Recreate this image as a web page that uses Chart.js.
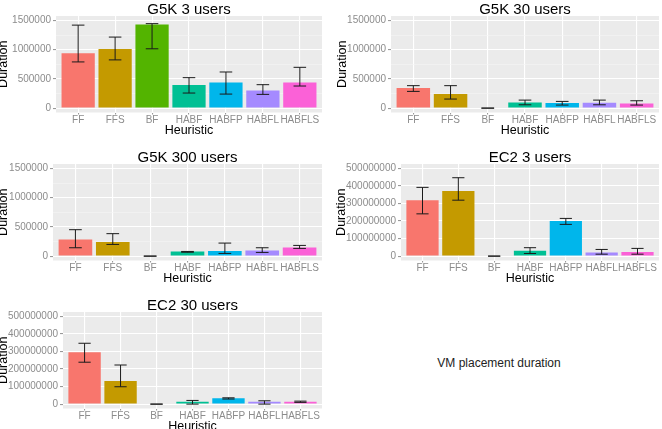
<!DOCTYPE html>
<html>
<head>
<meta charset="utf-8">
<script src="https://cdn.jsdelivr.net/npm/chart.js@4"></script>
<style>
  body { margin: 0; width: 662px; height: 429px; overflow: hidden; background: #fff; position: relative; font-family: "Liberation Sans", Arial, sans-serif; }
  canvas { position: absolute; }
  #note { position: absolute; left: 399px; width: 200px; top: 356px; text-align: center; font-size: 12px; color: #222; }
</style>
</head>
<body>
<canvas id="g5k3"></canvas>
<canvas id="g5k30"></canvas>
<canvas id="g5k300"></canvas>
<canvas id="ec23"></canvas>
<canvas id="ec230"></canvas>
<div id="note">VM placement duration</div>

<script>
// heuristics and ggplot hue colours
const heuristics = ['FF', 'FFS', 'BF', 'HABF', 'HABFP', 'HABFL', 'HABFLS'];
const colors = ['#F8766D', '#C49A00', '#53B400', '#00C094', '#00B6EB', '#A58AFF', '#FB61D7'];

// G5K 3 users
const g5k3Mean = [940000, 1010000, 1430000, 395000, 440000, 300000, 440000];
const g5k3Low  = [790000, 825000, 1015000, 258000, 240000, 235000, 378000];
const g5k3High = [1420000, 1215000, 1445000, 521000, 618000, 401000, 698000];

// G5K 30 users
const g5k30Mean = [343000, 240000, 0, 97000, 86000, 92000, 80000];
const g5k30Low  = [286000, 155000, 0, 57000, 52000, 57000, 52000];
const g5k30High = [384000, 384000, 0, 137000, 115000, 137000, 126000];

// G5K 300 users
const g5k300Mean = [286000, 240000, 0, 78000, 86000, 97000, 149000];
const g5k300Low  = [143000, 200000, 0, 66000, 46000, 63000, 132000];
const g5k300High = [452000, 384000, 0, 80000, 223000, 143000, 183000];

// EC2 3 users
const ec23Mean = [319000000, 371000000, 0, 30000000, 200000000, 21000000, 23000000];
const ec23Low  = [241000000, 319000000, 0, 15000000, 181000000, 11000000, 11000000];
const ec23High = [392000000, 447000000, 0, 48000000, 215000000, 38000000, 44000000];

// EC2 30 users
const ec230Mean = [296000000, 132000000, 0, 13000000, 34000000, 13000000, 13000000];
const ec230Low  = [239000000, 99000000, 0, 0, 29000000, 0, 10000000];
const ec230High = [347000000, 223000000, 0, 21000000, 36000000, 19000000, 17000000];

Chart.defaults.font.family = '"Liberation Sans", Arial, sans-serif';

// grey panel behind the plot
const panelBg = {
  id: 'panelBg',
  beforeDraw(chart) {
    const a = chart.chartArea, c = chart.ctx;
    c.save();
    c.fillStyle = '#EBEBEB';
    c.fillRect(a.left, a.top, a.right - a.left, a.bottom - a.top);
    c.restore();
  }
};

function errPlugin(low, high) {
  return {
    id: 'errbars',
    afterDatasetsDraw(chart) {
      const xs = chart.scales.x, ys = chart.scales.y, c = chart.ctx;
      c.save();
      c.strokeStyle = '#1a1a1a';
      c.lineWidth = 1;
      for (let i = 0; i < low.length; i++) {
        const x = xs.getPixelForValue(i);
        const x0 = xs.getPixelForValue(i - 0.17), x1 = xs.getPixelForValue(i + 0.17);
        const y0 = ys.getPixelForValue(low[i]), y1 = ys.getPixelForValue(high[i]);
        c.beginPath();
        c.moveTo(x, y0); c.lineTo(x, y1);
        c.moveTo(x0, y0); c.lineTo(x1, y0);
        c.moveTo(x0, y1); c.lineTo(x1, y1);
        c.stroke();
      }
      c.restore();
    }
  };
}

function makePanel(p) {
  const cv = document.getElementById(p.id);
  const titleH = 13, xH = 25.5;
  const w = Math.round(p.yW + p.plotW + p.padR);
  const h = Math.round(titleH + p.plotH + xH);
  cv.width = w; cv.height = h;
  cv.style.left = (p.left - p.yW) + 'px';
  cv.style.top = (p.top - titleH) + 'px';

  const minor = p.major / 2;
  const yTicks = [];
  for (let v = 0; v <= p.yMax; v += minor) yTicks.push(v);

  new Chart(cv, {
    type: 'bar',
    data: {
      datasets: [{
        data: p.mean.map((v, i) => ({ x: i, y: v })),
        backgroundColor: colors,
        borderWidth: 0,
        barPercentage: 1,
        categoryPercentage: 0.9
      }]
    },
    options: {
      responsive: false,
      animation: false,
      layout: { padding: { left: 0, right: p.padR, top: 0, bottom: 0 } },
      plugins: {
        legend: { display: false },
        tooltip: { enabled: false },
        title: {
          display: true,
          text: p.title,
          fullSize: false,
          color: '#000',
          font: { size: 15, lineHeight: 0.87, weight: 'normal' },
          padding: 0
        }
      },
      scales: {
        x: {
          type: 'linear',
          min: -0.6,
          max: 6.6,
          offset: false,
          afterBuildTicks: s => { s.ticks = heuristics.map((h, i) => ({ value: i })); },
          afterFit: s => { s.height = xH; },
          ticks: {
            autoSkip: false,
            maxRotation: 0,
            padding: 0,
            color: '#8c8c8c',
            font: { size: 10 },
            callback: v => heuristics[v]
          },
          grid: { offset: false, color: '#fff', lineWidth: 1.1, tickLength: 2, tickColor: '#999' },
          border: { display: false },
          title: { display: true, text: 'Heuristic', color: '#000', font: { size: 12.5 }, padding: 0 }
        },
        y: {
          min: -0.05 * p.yMax,
          max: 1.05 * p.yMax,
          afterBuildTicks: s => { s.ticks = yTicks.map(v => ({ value: v })); },
          afterFit: s => { s.width = p.yW; },
          ticks: {
            padding: 2,
            color: '#8c8c8c',
            font: { size: 10 },
            callback: v => (v % p.major === 0 ? String(v) : '')
          },
          grid: {
            color: c => (c.tick && c.tick.value % p.major === 0 ? '#fff' : '#F5F5F5'),
            lineWidth: c => (c.tick && c.tick.value % p.major === 0 ? 1.1 : 0.6),
            tickLength: 3,
            tickColor: c => (c.tick && c.tick.value % p.major === 0 ? '#999' : 'rgba(0,0,0,0)')
          },
          border: { display: false },
          title: { display: true, text: 'Duration', color: '#000', font: { size: 12.5 }, padding: 0 }
        }
      }
    },
    plugins: [panelBg, errPlugin(p.low, p.high)]
  });
}

makePanel({ id: 'g5k3', title: 'G5K 3 users', left: 56, top: 16, plotW: 266, plotH: 96, yW: 60, padR: 9,
  yMax: 1500000, major: 500000, mean: g5k3Mean, low: g5k3Low, high: g5k3High });
makePanel({ id: 'g5k30', title: 'G5K 30 users', left: 391, top: 16, plotW: 268, plotH: 96, yW: 56, padR: 3,
  yMax: 1500000, major: 500000, mean: g5k30Mean, low: g5k30Low, high: g5k30High });
makePanel({ id: 'g5k300', title: 'G5K 300 users', left: 53, top: 164, plotW: 269, plotH: 96, yW: 57, padR: 9,
  yMax: 1500000, major: 500000, mean: g5k300Mean, low: g5k300Low, high: g5k300High });
makePanel({ id: 'ec23', title: 'EC2 3 users', left: 401, top: 164, plotW: 258, plotH: 96, yW: 67, padR: 3,
  yMax: 500000000, major: 100000000, mean: ec23Mean, low: ec23Low, high: ec23High });
makePanel({ id: 'ec230', title: 'EC2 30 users', left: 63, top: 312, plotW: 259, plotH: 96, yW: 67, padR: 9,
  yMax: 500000000, major: 100000000, mean: ec230Mean, low: ec230Low, high: ec230High });
</script>
</body>
</html>
